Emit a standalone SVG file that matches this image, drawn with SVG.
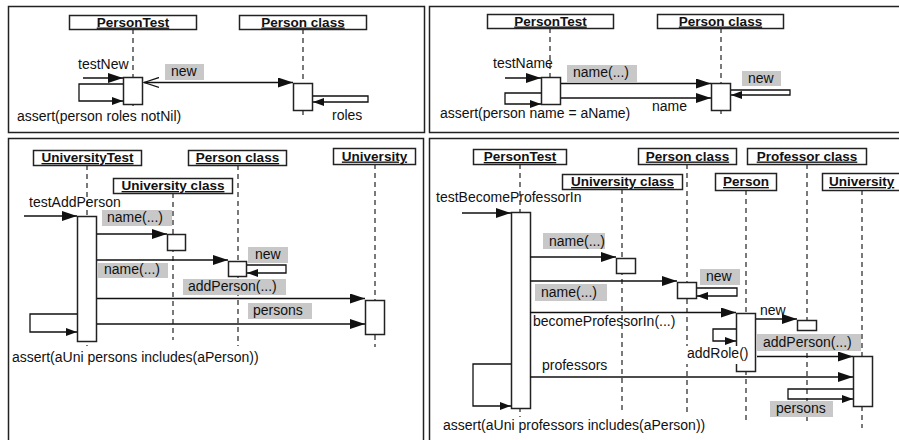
<svg xmlns="http://www.w3.org/2000/svg" width="899" height="440" viewBox="0 0 899 440">
<defs>
<style>
text{font-family:"Liberation Sans",Arial,sans-serif;font-size:14px;fill:#111}
.h{font-weight:bold;font-size:13.5px;text-decoration:underline;text-anchor:middle}
.panel{fill:none;stroke:#222;stroke-width:1.5}
.box{fill:#fff;stroke:#222;stroke-width:1.5}
.life{stroke:#222;stroke-width:1.2;stroke-dasharray:5 4;fill:none}
.act{fill:#fff;stroke:#222;stroke-width:1.5}
.msg{fill:none;stroke:#111;stroke-width:1.3;marker-end:url(#fa)}
.loop{fill:none;stroke:#111;stroke-width:1.3;marker-end:url(#fs)}
.lbl{fill:#c8c8c8}
</style>
<marker id="fa" markerUnits="userSpaceOnUse" markerWidth="15" markerHeight="10" refX="15" refY="5" viewBox="0 0 15 10" orient="auto"><path d="M0,0 L15,5 L0,10 z" fill="#111"/></marker>
<marker id="fs" markerUnits="userSpaceOnUse" markerWidth="11" markerHeight="8" refX="11" refY="4" viewBox="0 0 11 8" orient="auto"><path d="M0,0 L11,4 L0,8 z" fill="#111"/></marker>
<marker id="oa" markerUnits="userSpaceOnUse" markerWidth="16" markerHeight="12" refX="1" refY="6" viewBox="0 0 16 12" orient="auto"><path d="M16,1 L1,6 L16,11" fill="none" stroke="#111" stroke-width="1.3"/></marker>
</defs>
<rect width="899" height="440" fill="#fff"/>

<!-- Panels -->
<g id="panels">
<rect class="panel" x="8.5" y="6.5" width="416" height="126"/>
<rect class="panel" x="429.5" y="6.5" width="480" height="126"/>
<rect class="panel" x="8.5" y="138.5" width="415" height="310"/>
<rect class="panel" x="429.5" y="138.5" width="480" height="310"/>
</g>

<!-- ===== Panel 1 ===== -->
<g id="p1-persontest">
<line class="life" x1="133" y1="29" x2="133" y2="108"/>
<rect class="box" x="69.5" y="15.5" width="127" height="14"/>
<text class="h" x="133" y="26.5">PersonTest</text>
<rect class="act" x="123.5" y="77.5" width="19" height="27"/>
</g>
<g id="p1-personclass">
<line class="life" x1="303" y1="29" x2="303" y2="116"/>
<rect class="box" x="239.5" y="15.5" width="127" height="14"/>
<text class="h" x="303" y="26.5">Person class</text>
<rect class="act" x="293.5" y="83.5" width="19" height="27"/>
</g>
<g id="p1-connectors">
<text x="78" y="69">testNew</text>
<line class="msg" x1="83" y1="78" x2="123" y2="78"/>
<path class="loop" d="M123,84 H79 V101 H123"/>
<text x="17" y="121">assert(person roles notNil)</text>
<rect class="lbl" x="165" y="64" width="39" height="16"/>
<text x="171" y="76">new</text>
<line class="msg" x1="144" y1="82.5" x2="293" y2="82.5" marker-start="url(#oa)"/>
<path class="loop" d="M313,96 H368 V102 H313"/>
<text x="332" y="120">roles</text>
</g>

<!-- ===== Panel 2 ===== -->
<g id="p2-persontest">
<line class="life" x1="550" y1="28" x2="550" y2="108"/>
<rect class="box" x="487.5" y="14.5" width="126" height="14"/>
<text class="h" x="550.5" y="25.5">PersonTest</text>
<rect class="act" x="541.5" y="77.5" width="19" height="27"/>
</g>
<g id="p2-personclass">
<line class="life" x1="721" y1="28" x2="721" y2="116"/>
<rect class="box" x="657.5" y="14.5" width="126" height="14"/>
<text class="h" x="720.5" y="25.5">Person class</text>
<rect class="act" x="711.5" y="83.5" width="19" height="27"/>
</g>
<g id="p2-connectors">
<text x="493" y="68">testName</text>
<line class="msg" x1="505" y1="78" x2="541" y2="78"/>
<path class="loop" d="M541,93 H505 V104 H541"/>
<text x="440" y="118">assert(person name = aName)</text>
<rect class="lbl" x="567" y="65" width="70" height="17"/>
<text x="573" y="77">name(...)</text>
<line class="msg" x1="561" y1="83.5" x2="711" y2="83.5"/>
<line class="msg" x1="561" y1="98" x2="711" y2="98"/>
<text x="652" y="111">name</text>
<rect class="lbl" x="742" y="71" width="39" height="15"/>
<text x="748" y="83">new</text>
<path class="loop" d="M731,90 H790 V95 H731"/>
</g>

<!-- ===== Panel 3 ===== -->
<g id="p3-universitytest">
<line class="life" x1="87" y1="165" x2="87" y2="346"/>
<rect class="box" x="33.5" y="150.5" width="108" height="15"/>
<text class="h" x="87.5" y="162">UniversityTest</text>
</g>
<g id="p3-personclass">
<line class="life" x1="238" y1="165" x2="238" y2="346"/>
<rect class="box" x="188.5" y="150.5" width="98" height="15"/>
<text class="h" x="237.5" y="162">Person class</text>
</g>
<g id="p3-universityclass">
<line class="life" x1="173" y1="193" x2="173" y2="340"/>
<rect class="box" x="113.5" y="178.5" width="119" height="15"/>
<text class="h" x="173" y="190">University class</text>
</g>
<g id="p3-university">
<line class="life" x1="375" y1="164" x2="375" y2="347"/>
<rect class="box" x="333.5" y="148.5" width="82" height="16"/>
<text class="h" x="374.5" y="160.5">University</text>
</g>
<g id="p3-activations">
<rect class="act" x="77.5" y="216.5" width="19" height="125"/>
<rect class="act" x="167.5" y="234.5" width="18" height="16"/>
<rect class="act" x="228.5" y="261.5" width="18" height="15"/>
<rect class="act" x="365.5" y="300.5" width="19" height="34"/>
</g>
<g id="p3-connectors">
<text x="29" y="207">testAddPerson</text>
<line class="msg" x1="24" y1="216" x2="77" y2="216"/>
<rect class="lbl" x="102" y="210" width="70" height="16"/>
<text x="107" y="222">name(...)</text>
<line class="msg" x1="97" y1="234" x2="167" y2="234"/>
<rect class="lbl" x="98" y="263" width="70" height="15"/>
<text x="104" y="274">name(...)</text>
<line class="msg" x1="97" y1="260" x2="228" y2="260"/>
<rect class="lbl" x="248" y="247" width="40" height="16"/>
<text x="255" y="259">new</text>
<path class="loop" d="M247,265 H286 V273 H247"/>
<rect class="lbl" x="183" y="279" width="103" height="16"/>
<text x="188" y="291">addPerson(...)</text>
<line class="msg" x1="97" y1="298.5" x2="365" y2="298.5"/>
<rect class="lbl" x="248" y="303" width="64" height="16"/>
<text x="253" y="315">persons</text>
<line class="msg" x1="97" y1="324" x2="365" y2="324"/>
<path class="loop" d="M77,314 H30 V332 H77"/>
<text x="12" y="362">assert(aUni persons includes(aPerson))</text>
</g>

<!-- ===== Panel 4 ===== -->
<g id="p4-persontest">
<line class="life" x1="520" y1="164" x2="520" y2="417"/>
<rect class="box" x="473.5" y="149.5" width="93" height="15"/>
<text class="h" x="520" y="161">PersonTest</text>
</g>
<g id="p4-personclass">
<line class="life" x1="687" y1="164" x2="687" y2="413"/>
<rect class="box" x="638.5" y="148.5" width="98" height="16"/>
<text class="h" x="687.5" y="160.5">Person class</text>
</g>
<g id="p4-professorclass">
<line class="life" x1="807" y1="164" x2="807" y2="422"/>
<rect class="box" x="747.5" y="148.5" width="119" height="16"/>
<text class="h" x="807" y="160.5">Professor class</text>
</g>
<g id="p4-universityclass">
<line class="life" x1="622" y1="189" x2="622" y2="412"/>
<rect class="box" x="562.5" y="174.5" width="120" height="15"/>
<text class="h" x="622.5" y="186">University class</text>
</g>
<g id="p4-person">
<line class="life" x1="746" y1="190" x2="746" y2="420"/>
<rect class="box" x="715.5" y="173.5" width="61" height="17"/>
<text class="h" x="746" y="186">Person</text>
</g>
<g id="p4-university">
<line class="life" x1="862" y1="190" x2="862" y2="428"/>
<rect class="box" x="822.5" y="173.5" width="90" height="17"/>
<text class="h" x="829" y="186" style="text-anchor:start">University</text>
</g>
<g id="p4-activations">
<rect class="act" x="511.5" y="212.5" width="19" height="196"/>
<rect class="act" x="616.5" y="258.5" width="19" height="15"/>
<rect class="act" x="677.5" y="282.5" width="19" height="16"/>
<rect class="act" x="736.5" y="313.5" width="19" height="58"/>
<rect class="act" x="797.5" y="320.5" width="19" height="10"/>
<rect class="act" x="853.5" y="356.5" width="19" height="50"/>
</g>
<g id="p4-connectors">
<text x="436" y="202">testBecomeProfessorIn</text>
<line class="msg" x1="462" y1="213" x2="511" y2="213"/>
<rect class="lbl" x="543" y="233" width="62" height="16"/>
<text x="549" y="246">name(...)</text>
<line class="msg" x1="530" y1="257" x2="616" y2="257"/>
<rect class="lbl" x="535" y="284" width="72" height="17"/>
<text x="541" y="297">name(...)</text>
<line class="msg" x1="530" y1="281" x2="677" y2="281"/>
<rect class="lbl" x="700" y="269" width="40" height="16"/>
<text x="706" y="281">new</text>
<path class="loop" d="M697,288 H737 V296 H697"/>
<text x="533" y="326">becomeProfessorIn(...)</text>
<line class="msg" x1="530" y1="312.5" x2="736" y2="312.5"/>
<path class="loop" d="M736,329 H713 V341 H736"/>
<text x="760" y="315">new</text>
<line class="msg" x1="756" y1="319" x2="797" y2="319"/>
<rect class="lbl" x="757" y="334" width="104" height="17"/>
<text x="763" y="347">addPerson(...)</text>
<rect x="685" y="346" width="67" height="18" fill="#fff"/>
<text x="687" y="358">addRole()</text>
<line class="msg" x1="757" y1="356.5" x2="853" y2="356.5"/>
<text x="542" y="370">professors</text>
<line class="msg" x1="530" y1="377" x2="853" y2="377"/>
<path class="loop" d="M853,389 H788 V399 H853"/>
<rect class="lbl" x="770" y="401" width="63" height="16"/>
<text x="776" y="413">persons</text>
<path class="loop" d="M511,364 H473 V406 H511"/>
<text x="443" y="430">assert(aUni professors includes(aPerson))</text>
</g>
</svg>
